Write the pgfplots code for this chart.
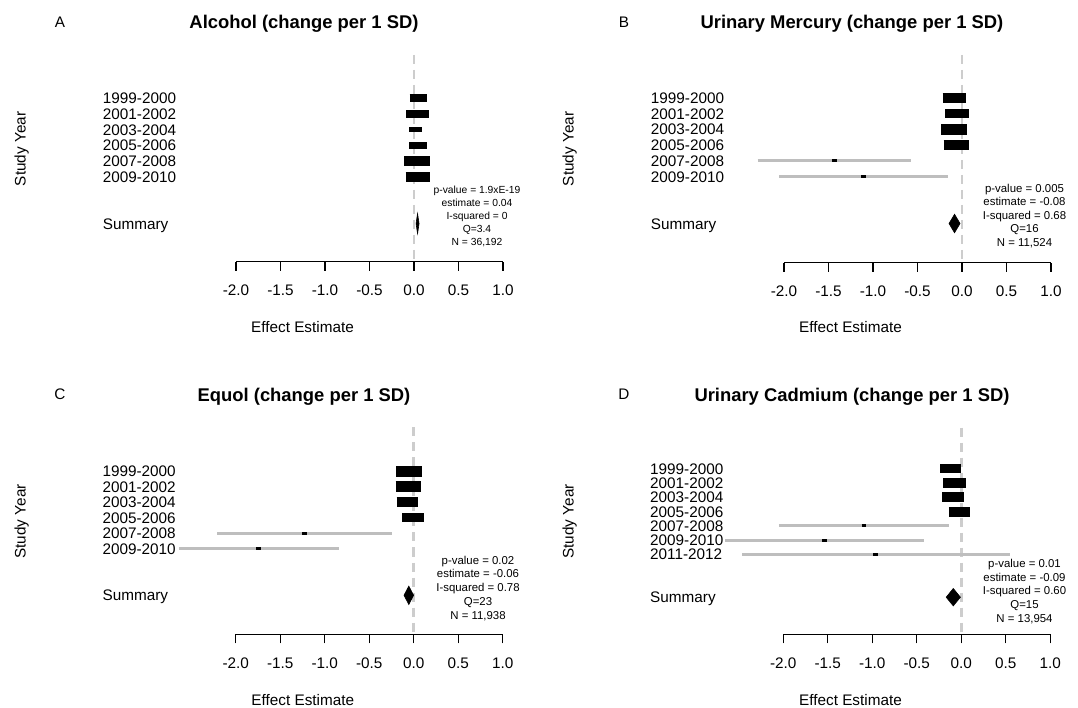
\documentclass[border=0pt]{standalone}
\usepackage{pgfplots}
\pgfplotsset{compat=1.18}
\usepackage{fontspec}
\setmainfont{Liberation Sans}
\definecolor{cigray}{RGB}{190,190,190}
\definecolor{dashgray}{RGB}{205,205,205}
% box: x1, x2, row, height(pt)
\newcommand{\bx}[4]{\addplot[black, line width=#4pt, forget plot] coordinates {(#1,-#3) (#2,-#3)};}
% confidence interval line: lo, hi, row
\newcommand{\ci}[3]{\addplot[cigray, line width=2.8pt, forget plot] coordinates {(#1,-#3) (#2,-#3)};}
\newcommand{\lab}[3]{\node[anchor=base, inner sep=0pt] at (#1pt,#2pt) {#3};}
\pgfplotsset{forest/.style={
  scale only axis, width=267pt, clip=false,
  xmin=-2, xmax=1,
  axis x line*=bottom,
  x axis line style={-, black, line width=1.3pt},
  y axis line style={draw=none},
  ytick style={draw=none},
  xtick style={black, line width=1.3pt},
  tick align=outside, major tick length=9pt,
  xtick={-2,-1.5,-1,-0.5,0,0.5,1},
  xticklabels={-2.0,-1.5,-1.0,-0.5,0.0,0.5,1.0},
  xticklabel style={font=\fontsize{15.3}{18}\selectfont, anchor=north, inner sep=0pt, yshift=-14.1pt},
  yticklabel style={font=\fontsize{15.3}{18}\selectfont, anchor=base west, inner sep=0pt, xshift=-124.3pt, yshift=-5.5pt},
}}
\begin{document}
\begin{tikzpicture}
\useasboundingbox (0,0) rectangle (1078pt,707pt);

% ---------------- Panel A ----------------
\begin{axis}[forest, at={(236pt,445.3pt)}, anchor=south west, height=206.7pt,
  ymin=-11.43, ymax=1.76,
  ytick={-9,-6,-5,-4,-3,-2,-1},
  yticklabels={Summary,2009-2010,2007-2008,2005-2006,2003-2004,2001-2002,1999-2000}]
\addplot[dashgray, line width=2.5pt, dash pattern=on 9pt off 6pt, forget plot] coordinates {(0,1.76) (0,-11.43)};
\bx{-0.048}{0.146}{1}{8}
\bx{-0.085}{0.168}{2}{8.7}
\bx{-0.056}{0.086}{3}{4.7}
\bx{-0.056}{0.146}{4}{7.3}
\bx{-0.112}{0.176}{5}{10}
\bx{-0.093}{0.184}{6}{10}
\addplot[fill=black, draw=black, line width=0.6pt] coordinates {(0.023,-9) (0.04,-8.36) (0.057,-9) (0.04,-9.64)} -- cycle;
\end{axis}

% ---------------- Panel B ----------------
\begin{axis}[forest, at={(784pt,444.3pt)}, anchor=south west, height=207.8pt,
  ymin=-11.5, ymax=1.76,
  ytick={-9,-6,-5,-4,-3,-2,-1},
  yticklabels={Summary,2009-2010,2007-2008,2005-2006,2003-2004,2001-2002,1999-2000}]
\addplot[dashgray, line width=2.5pt, dash pattern=on 9pt off 6pt, forget plot] coordinates {(0,1.76) (0,-11.5)};
\bx{-0.217}{0.045}{1}{9.3}
\bx{-0.187}{0.075}{2}{9.3}
\bx{-0.236}{0.053}{3}{10.7}
\bx{-0.206}{0.079}{4}{10.3}
\ci{-2.296}{-0.573}{5}
\bx{-1.463}{-1.409}{5}{3}
\ci{-2.056}{-0.154}{6}
\bx{-1.130}{-1.076}{6}{3}
\addplot[fill=black, draw=black, line width=0.6pt] coordinates {(-0.146,-9) (-0.084,-8.41) (-0.022,-9) (-0.084,-9.59)} -- cycle;
\end{axis}

% ---------------- Panel C ----------------
\begin{axis}[forest, at={(235.7pt,72.7pt)}, anchor=south west, height=206.8pt,
  ymin=-11.51, ymax=1.8,
  ytick={-9,-6,-5,-4,-3,-2,-1},
  yticklabels={Summary,2009-2010,2007-2008,2005-2006,2003-2004,2001-2002,1999-2000}]
\addplot[dashgray, line width=2.5pt, dash pattern=on 9pt off 6pt, forget plot] coordinates {(0,1.8) (0,-11.51)};
\bx{-0.195}{0.089}{1}{11}
\bx{-0.203}{0.080}{2}{11.7}
\bx{-0.192}{0.051}{3}{9.3}
\bx{-0.128}{0.119}{4}{9.3}
\ci{-2.206}{-0.244}{5}
\bx{-1.250}{-1.196}{5}{3}
\ci{-2.632}{-0.842}{6}
\bx{-1.768}{-1.714}{6}{3}
\addplot[fill=black, draw=black, line width=0.6pt] coordinates {(-0.109,-9) (-0.055,-8.41) (-0.001,-9) (-0.055,-9.59)} -- cycle;
\end{axis}

% ---------------- Panel D ----------------
\begin{axis}[forest, at={(783.3pt,72.7pt)}, anchor=south west, height=206.8pt,
  ymin=-12.6, ymax=1.89,
  ytick={-10,-7,-6,-5,-4,-3,-2,-1},
  yticklabels={Summary,2011-2012,2009-2010,2007-2008,2005-2006,2003-2004,2001-2002,1999-2000}]
\addplot[dashgray, line width=2.5pt, dash pattern=on 9pt off 6pt, forget plot] coordinates {(0,1.89) (0,-12.6)};
\bx{-0.236}{0.002}{1}{9.3}
\bx{-0.203}{0.055}{2}{9.7}
\bx{-0.214}{0.028}{3}{10}
\bx{-0.140}{0.095}{4}{10}
\ci{-2.049}{-0.140}{5}
\bx{-1.120}{-1.066}{5}{3}
\ci{-2.654}{-0.420}{6}
\bx{-1.564}{-1.510}{6}{3}
\ci{-2.460}{0.548}{7}
\bx{-0.991}{-0.937}{7}{3}
\addplot[fill=black, draw=black, line width=0.6pt] coordinates {(-0.170,-10) (-0.09,-9.39) (-0.010,-10) (-0.09,-10.61)} -- cycle;
\end{axis}

% ---------------- Titles and labels ----------------
\begin{scope}[font=\bfseries\fontsize{18.4}{22}\selectfont]
\lab{304}{678.4}{Alcohol (change per 1 SD)}
\lab{852}{678.4}{Urinary Mercury (change per 1 SD)}
\lab{304}{305.9}{Equol (change per 1 SD)}
\lab{852}{305.9}{Urinary Cadmium (change per 1 SD)}
\end{scope}
\begin{scope}[font=\fontsize{15.3}{18}\selectfont]
\lab{60}{679.5}{A}
\lab{624}{679.5}{B}
\lab{60}{307}{C}
\lab{624}{307}{D}
\node[rotate=90, inner sep=0pt] at (21.7pt,558pt) {Study Year};
\node[rotate=90, inner sep=0pt] at (569.7pt,558pt) {Study Year};
\node[rotate=90, inner sep=0pt] at (21.7pt,185.5pt) {Study Year};
\node[rotate=90, inner sep=0pt] at (569.7pt,185.5pt) {Study Year};
\node[inner sep=0pt] at (302.5pt,380pt) {Effect Estimate};
\node[inner sep=0pt] at (850.5pt,380pt) {Effect Estimate};
\node[inner sep=0pt] at (302.8pt,7pt) {Effect Estimate};
\node[inner sep=0pt] at (850.5pt,7pt) {Effect Estimate};
\end{scope}
% ---------------- Annotations ----------------
\begin{scope}[font=\fontsize{10.3}{12}\selectfont]
\lab{477}{513.3}{p-value = 1.9xE-19}
\lab{477}{500.4}{estimate = 0.04}
\lab{477}{487.5}{I-squared = 0}
\lab{477}{474.6}{Q=3.4}
\lab{477}{461.7}{N = 36,192}
\end{scope}
\begin{scope}[font=\fontsize{11.4}{13}\selectfont]
\lab{1024.5}{514.6}{p-value = 0.005}
\lab{1024.5}{501.1}{estimate = -0.08}
\lab{1024.5}{487.6}{I-squared = 0.68}
\lab{1024.5}{474.1}{Q=16}
\lab{1024.5}{460.6}{N = 11,524}
\lab{478}{142.9}{p-value = 0.02}
\lab{478}{129.15}{estimate = -0.06}
\lab{478}{115.4}{I-squared = 0.78}
\lab{478}{101.65}{Q=23}
\lab{478}{87.9}{N = 11,938}
\lab{1024.5}{139.6}{p-value = 0.01}
\lab{1024.5}{125.85}{estimate = -0.09}
\lab{1024.5}{112.1}{I-squared = 0.60}
\lab{1024.5}{98.35}{Q=15}
\lab{1024.5}{84.6}{N = 13,954}
\end{scope}
\end{tikzpicture}
\end{document}
